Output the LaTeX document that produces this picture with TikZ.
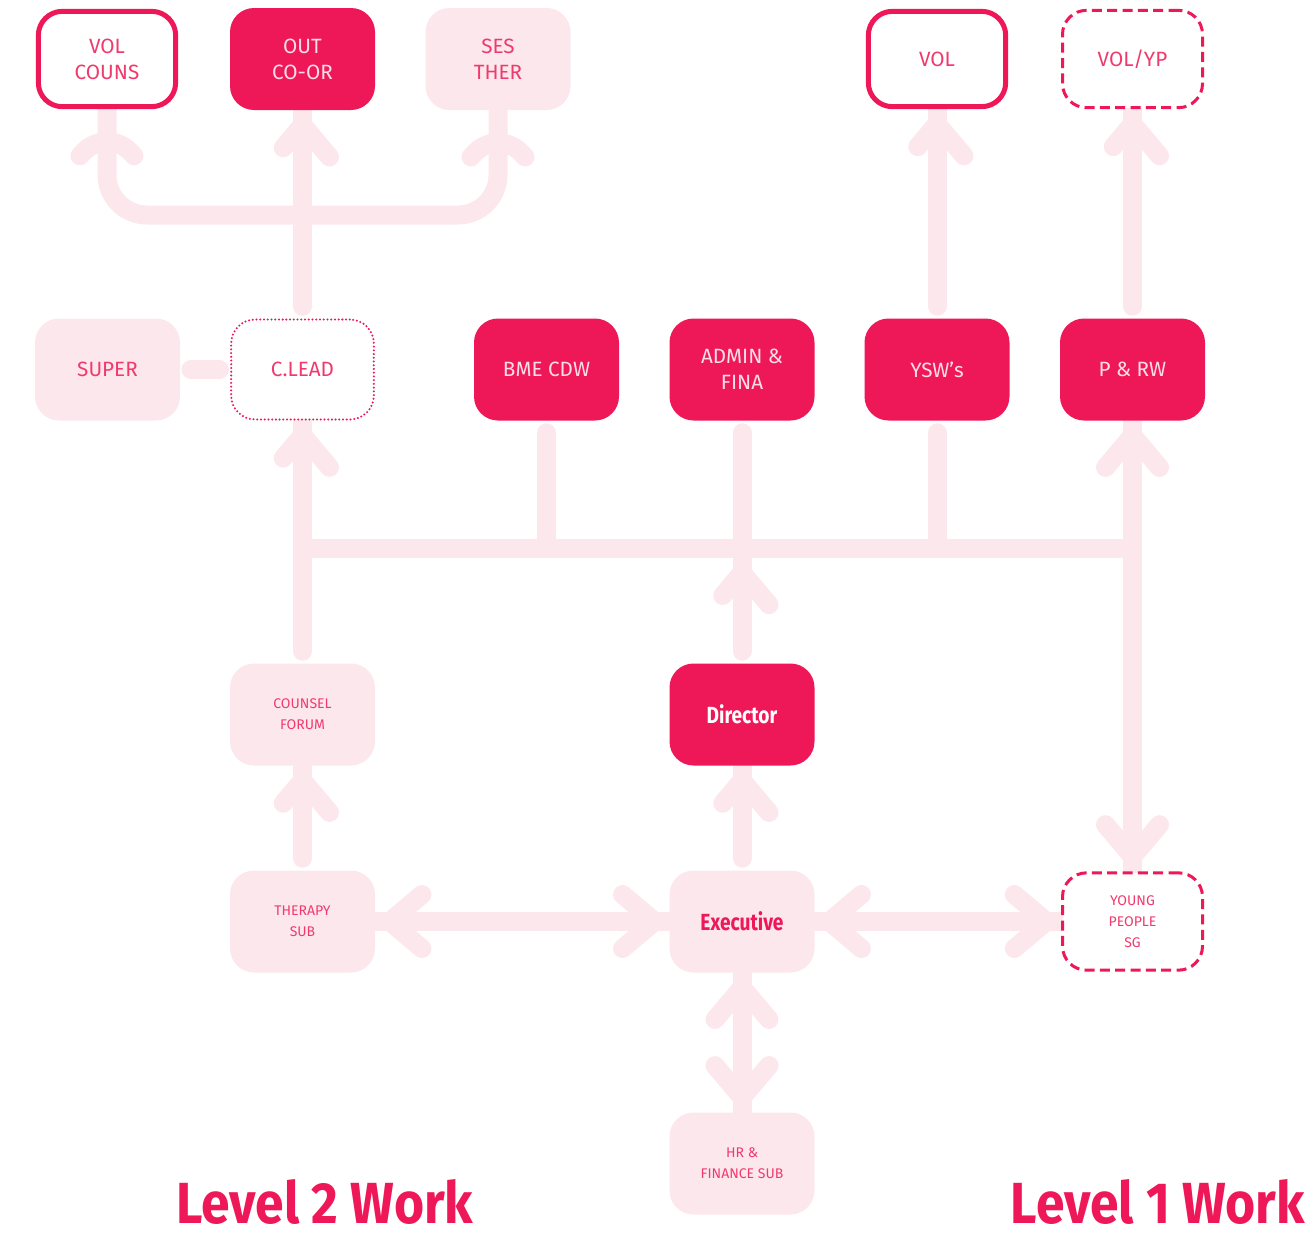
\documentclass[tikz,border=0pt]{standalone}
\usepackage{fontspec}
\setmainfont{Fira Sans}
\newfontfamily\headfont{Fira Sans}[FakeStretch=0.82]
\newfontfamily\levelfont{Fira Sans}[FakeStretch=0.89]
\usetikzlibrary{backgrounds,decorations.markings}
\definecolor{hot}{RGB}{238,24,89}
\definecolor{blush}{RGB}{252,231,237}
\definecolor{rose}{RGB}{240,58,110}
\definecolor{petal}{RGB}{253,222,231}
\tikzset{
  box/.style={rounded corners=18pt, minimum width=108.75pt, minimum height=76.5pt, inner sep=0pt, align=center, text=rose, font=\fontsize{15.5}{19.5}\selectfont},
  hotbox/.style={box, fill=hot, text=petal},
  palebox/.style={box, fill=blush},
  ringbox/.style={box, draw=hot, fill=white, line width=3.75pt, minimum width=103pt, minimum height=71.5pt},
  dashbox/.style={box, draw=hot, fill=white, line width=2.25pt, dash pattern=on 7.5pt off 4pt, minimum width=105pt, minimum height=73pt},
  dotbox/.style={box, draw=hot, fill=white, line width=1.7pt, line cap=round, dash pattern=on 0pt off 2.8pt, minimum width=107pt, minimum height=75pt},
  small/.style={font=\fontsize{10.5}{15.75}\selectfont},
  heavy/.style={font=\headfont\bfseries\fontsize{17.5}{20}\selectfont},
  level/.style={anchor=base, inner sep=0pt, text=hot, font=\levelfont\bfseries\fontsize{43.5}{48}\selectfont},
  link/.style={draw=blush, line width=14.25pt, line cap=round},
  chevron/.style={draw=blush, line width=14.25pt, line cap=round, line join=miter},
  tohead/.style={postaction={decorate, decoration={markings, mark=at position 1 with {\draw[chevron] (-35pt,20.25pt) -- (-11pt,0pt) -- (-35pt,-20.25pt);}}}},
  fromhead/.style={postaction={decorate, decoration={markings, mark=at position 0 with {\draw[chevron] (35pt,20.25pt) -- (11pt,0pt) -- (35pt,-20.25pt);}}}},
  gap/.style={shorten <=9pt}
}
\begin{document}
\begin{tikzpicture}[x=0.75pt,y=-0.75pt]
\useasboundingbox (0,0) rectangle (1309,1235);

%Level 2 boxes, top row
\node[ringbox] (volc) at (107,59) {VOL\\COUNS};
\node[hotbox] (outc) at (302.5,59) {OUT\\CO-OR};
\node[palebox] (ses) at (498,59) {SES\\THER};
%Level 1 boxes, top row
\node[ringbox] (vol) at (937,59) {VOL};
\node[dashbox] (volyp) at (1132.5,59) {VOL/YP};

%Second row
\node[palebox] (super) at (107.5,369.5) {SUPER};
\node[dotbox] (clead) at (302.5,369.5) {C.LEAD};
\node[hotbox] (bme) at (546.5,369.5) {BME CDW};
\node[hotbox] (admin) at (742,369.5) {ADMIN \&\\FINA};
\node[hotbox] (ysw) at (937,369.5) {YSW's};
\node[hotbox] (prw) at (1132.5,369.5) {P \& RW};

%Lower rows
\node[palebox, small] (cforum) at (302.5,714.5) {COUNSEL\\FORUM};
\node[hotbox, heavy, text=white] (director) at (742,714.5) {Director};
\node[palebox, small] (therapy) at (302.5,921.5) {THERAPY\\SUB};
\node[palebox, heavy, text=hot] (exec) at (742,921.5) {Executive};
\node[dashbox, small] (ypsg) at (1132.5,921.5) {YOUNG\\PEOPLE\\SG};
\node[palebox, small] (hrfin) at (742,1163.5) {HR \&\\FINANCE SUB};

\coordinate (fork) at (302.5,215);
\coordinate (bus) at (742,548);
\coordinate (busfoot) at (742,558);

\begin{scope}[on background layer]
%fork to the top left boxes
\draw[link, gap, tohead] (clead.north) -- (outc.south);
\draw[link, rounded corners=30pt, fromhead, tohead] (volc.south) |- (fork) -| (ses.south);
\draw[link, shorten <=8pt, shorten >=8pt] (super.east) -- (clead.west);
%bus
\draw[link, gap, tohead] (cforum.north) -- (clead.south);
\draw[link, line cap=butt] (bus -| clead.south) -- (bus -| prw.south);
\draw[link, gap] (bme.south) -- (bme.south |- bus);
\draw[link, gap] (admin.south) -- (bus);
\draw[link, gap] (ysw.south) -- (ysw.south |- bus);
\draw[link, gap, tohead] (director.north) -- (busfoot);
\draw[link, fromhead, tohead] (ypsg.north) -- (prw.south);
%level 1 top
\draw[link, gap, tohead] (ysw.north) -- (vol.south);
\draw[link, gap, tohead] (prw.north) -- (volyp.south);
%lower part
\draw[link, gap, tohead] (therapy.north) -- (cforum.south);
\draw[link, gap, tohead] (exec.north) -- (director.south);
\draw[link, fromhead, tohead] (therapy.east) -- (exec.west);
\draw[link, fromhead, tohead] (exec.east) -- (ypsg.west);
\draw[link, fromhead, tohead] (exec.south) -- (hrfin.north);
\end{scope}

% Text Node
\node[level] (lvtwo) at (325,1223) {Level 2 Work};
% Text Node
\node[level] (lvone) at (1158,1223) {Level 1 Work};
\end{tikzpicture}
\end{document}
